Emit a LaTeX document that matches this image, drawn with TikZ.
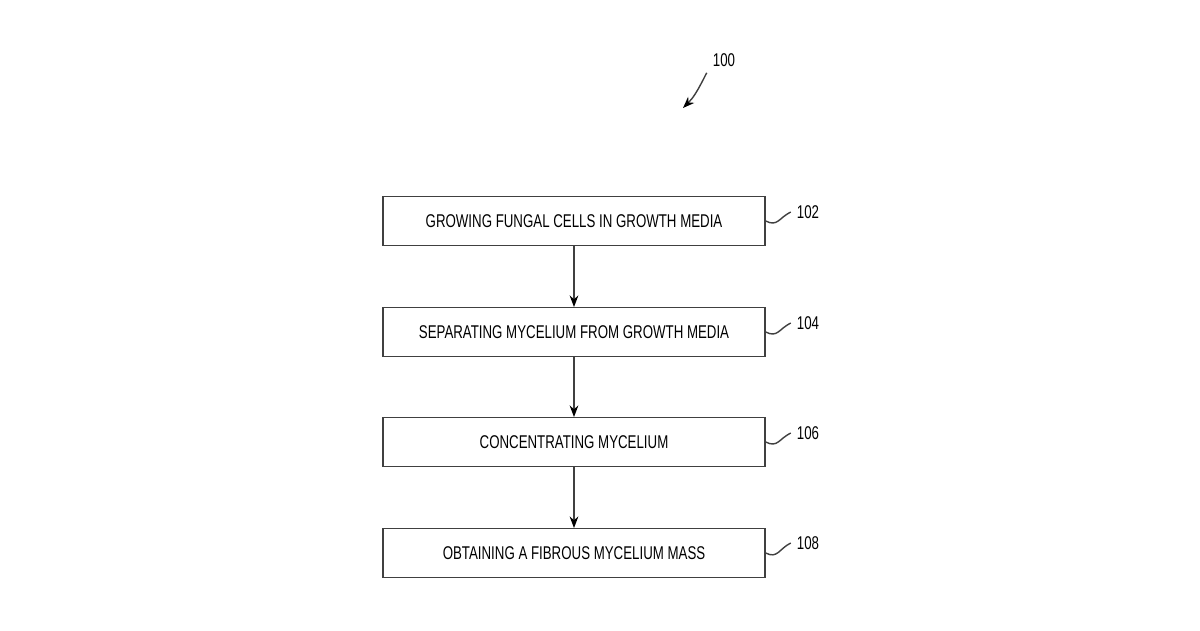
\documentclass[tikz,border=0pt]{standalone}
\usepackage{fontspec}
\setmainfont[FakeStretch=0.72]{Liberation Sans}
\usetikzlibrary{arrows.meta}
\tikzstyle{step-box}=[draw=black!75,thick,minimum width=7.64cm,minimum height=0.97cm,font=\fontsize{10.5}{12}\selectfont]
\tikzstyle{ref-label}=[font=\fontsize{10.5}{12}\selectfont]
\tikzstyle{flow-line}=[draw=black!75,thick]

\begin{document}
\begin{tikzpicture}[x=0.02cm,y=-0.02cm]
	\useasboundingbox (0,0) rectangle (1200,630);
	\begin{scope}
	\node (s1)[step-box] at (574,221) {GROWING FUNGAL CELLS IN GROWTH MEDIA};
	\node (s2)[step-box] at (574,332) {SEPARATING MYCELIUM FROM GROWTH MEDIA};
	\node (s3)[step-box] at (574,442) {CONCENTRATING MYCELIUM};
	\node (s4)[step-box] at (574,553) {OBTAINING A FIBROUS MYCELIUM MASS};
	
	\node (r1)[ref-label] at (808,212) {102};
	\node (r2)[ref-label] at (808,323) {104};
	\node (r3)[ref-label] at (808,433) {106};
	\node (r4)[ref-label] at (808,543) {108};
	\node (r0)[ref-label] at (724,60) {100};
	\coordinate (p0) at (683,108);
	\end{scope}
	
	\begin{scope}[>={Stealth[black]}, every edge/.style=flow-line]
	\path [->] (s1) edge node {} (s2);
	\path [->] (s2) edge node {} (s3);
	\path [->] (s3) edge node {} (s4);
	\foreach \i in {1,2,3,4}
		\draw [flow-line] (s\i.east) .. controls +(12,6) and +(-12,6) .. (r\i.west);
	\draw [flow-line,->] (r0.south west) .. controls +(-10,20) and +(10,-10) .. (p0);
	\end{scope}
\end{tikzpicture}
\end{document}
